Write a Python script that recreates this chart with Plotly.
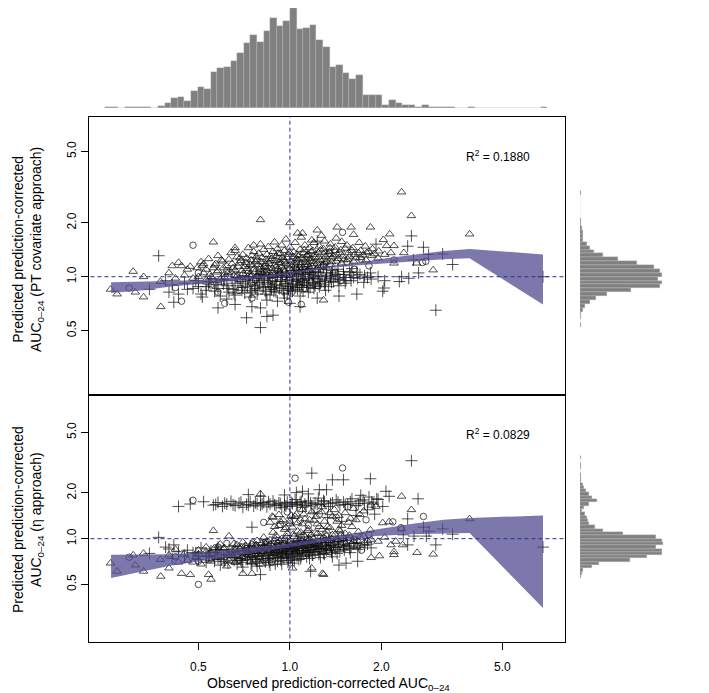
import math
import plotly.graph_objects as go

# ---------------- data ----------------
# top panel: PT covariate approach  (observed, predicted)
top_tri = [(0.80,2.08),(1.00,2.00),(1.23,1.82),(1.06,1.75),(1.10,1.75),(0.56,1.56),(0.66,1.45),(0.76,1.50),
           (0.305,1.07),(0.41,1.15),(0.44,1.15),(0.52,1.18),(0.33,1.00),(0.375,0.94),(0.257,0.85),(0.27,0.80),
           (0.31,0.82),(0.33,0.77),(0.376,0.68),(1.29,0.74),(2.33,2.97),(2.51,2.19),(3.9,1.73),(1.43,1.89),
           (1.59,1.89),(1.84,1.89),(2.13,1.73),(2.03,1.61),(2.08,1.49),(2.2,1.49),(2.37,1.36),(2.96,1.09),
           (2.61,1.19),(2.2,1.19),(2.15,1.36),(0.40,1.05),(0.42,0.98),(0.43,1.20),
           (0.45,1.02),(0.46,1.10),(0.48,0.98),(0.47,1.14),(0.52,1.05),(0.51,1.21),(0.53,0.96),(0.55,1.00),
           (0.56,1.12),(0.54,1.26),(0.58,1.08),(0.59,0.97),(0.57,1.18),(0.58,1.31),(0.61,1.03),(0.62,1.15),
           (0.60,1.22),(0.61,0.99),(0.64,1.06),(0.63,1.25),(0.65,1.12),(0.64,1.36),(0.67,1.01),(0.66,1.09),
           (0.68,1.19),(0.67,1.29),(0.66,1.40),(0.70,1.04),(0.71,1.14),(0.69,1.23),(0.70,1.33),(0.72,0.98),
           (0.73,1.07),(0.74,1.17),(0.72,1.27),(0.73,1.45),(0.75,1.02),(0.76,1.10),(0.77,1.21),(0.75,1.31),
           (0.76,1.38),(0.78,1.00),(0.79,1.05),(0.80,1.13),(0.78,1.24),(0.79,1.35),(0.80,1.52),(0.82,1.09),
           (0.83,1.18),(0.81,1.28),(0.82,1.42),(0.84,1.03),(0.85,1.12),(0.86,1.22),(0.84,1.33),(0.85,1.47),
           (0.87,1.01),(0.88,1.06),(0.89,1.16),(0.87,1.26),(0.88,1.38),(0.89,1.56),(0.91,1.10),(0.92,1.20),
           (0.90,1.30),(0.91,1.43),(0.93,1.04),(0.94,1.13),(0.95,1.24),(0.93,1.35),(0.94,1.50),(0.96,1.07),
           (0.97,1.18),(0.98,1.28),(0.96,1.40),(0.97,1.62),(1.00,1.11),(1.01,1.22),(0.99,1.33),(1.00,1.46),
           (1.02,1.05),(1.04,1.15),(1.05,1.26),(1.03,1.37),(1.04,1.55),(1.06,1.09),(1.08,1.12),(1.09,1.20),
           (1.07,1.31),(1.08,1.42),(1.09,1.66),(1.12,1.16),(1.13,1.25),(1.11,1.36),(1.12,1.50),(1.14,1.08),
           (1.16,1.13),(1.17,1.22),(1.15,1.33),(1.16,1.45),(1.18,1.60),(1.20,1.18),(1.21,1.28),(1.19,1.40),
           (1.20,1.55),(1.22,1.10),(1.25,1.15),(1.26,1.24),(1.24,1.36),(1.25,1.48),(1.27,1.70),(1.30,1.20),
           (1.31,1.30),(1.29,1.43),(1.30,1.58),(1.32,1.12),(1.36,1.17),(1.37,1.27),(1.35,1.38),(1.36,1.52),
           (1.42,1.22),(1.43,1.33),(1.41,1.46),(1.42,1.64),(1.48,1.19),(1.49,1.30),(1.47,1.41),(1.48,1.57),
           (1.55,1.25),(1.56,1.36),(1.54,1.50),(1.62,1.22),(1.63,1.33),(1.61,1.45),(1.62,1.72),(1.70,1.28),
           (1.71,1.40),(1.69,1.55),(1.78,1.24),(1.79,1.36),(1.77,1.48),(1.86,1.31),(1.87,1.43),(1.95,1.27),
           (1.96,1.39),(2.05,1.33)]
top_tri_more = [(0.605,1.12),(0.625,1.05),(0.645,1.18),(0.655,1.02),(0.675,1.14),(0.685,1.27),(0.695,1.08),
           (0.715,1.20),(0.725,1.11),(0.735,1.03),(0.745,1.24),(0.755,1.15),(0.765,1.06),(0.775,1.29),(0.785,1.17),
           (0.795,1.09),(0.805,1.21),(0.815,1.04),(0.825,1.14),(0.835,1.25),(0.845,1.08),(0.855,1.18),(0.865,1.30),
           (0.875,1.11),(0.885,1.02),(0.895,1.23),(0.905,1.14),(0.915,1.35),(0.925,1.06),(0.935,1.19),(0.945,1.28),
           (0.955,1.10),(0.965,1.22),(0.975,1.03),(0.985,1.15),(0.995,1.37),(1.005,1.17),(1.015,1.08),(1.025,1.29),
           (1.035,1.20),(1.045,1.11),(1.055,1.33),(1.065,1.24),(1.075,1.06),(1.085,1.16),(1.095,1.27),(1.105,1.13),
           (1.115,1.41),(1.125,1.20),(1.135,1.31),(1.145,1.17),(1.155,1.09),(1.165,1.26),(1.175,1.38),(1.185,1.14),
           (1.195,1.22),(1.21,1.33),(1.23,1.19),(1.245,1.29),(1.26,1.41),(1.275,1.16),(1.29,1.25),(1.305,1.37),
           (1.32,1.22),(1.34,1.33),(1.355,1.45),(1.37,1.21),(1.39,1.30),(1.41,1.40),(1.44,1.26),(1.46,1.36),
           (1.50,1.24),(1.52,1.44),(1.57,1.30),(1.60,1.40),(1.65,1.27),(1.68,1.36),(1.74,1.32),(1.82,1.38),
           (1.90,1.34),(0.53,1.10),(0.545,1.03),(0.565,1.16),(0.575,1.06),(0.595,1.24),(0.50,1.00),(0.495,1.12),
           (0.515,1.15)]
top_circ = [(0.48,1.50),(0.296,0.865),(0.44,0.73),(0.61,0.71),(1.09,0.70),(1.49,1.77),(2.73,1.20),(2.80,1.22),
            (2.2,1.24),(0.42,0.87),(0.55,0.90),(0.62,1.08),(0.68,0.84),(0.72,1.18),(0.77,0.96),(0.83,1.14),
            (0.87,0.88),(0.92,1.26),(0.96,1.00),(1.01,0.81),(1.05,1.19),(1.09,0.94),(1.14,1.30),(1.19,1.02),
            (1.24,0.89),(1.29,1.15),(1.35,1.35),(1.41,1.06),(1.47,0.95),(1.54,1.20),(1.63,1.10),(1.72,1.25),
            (1.82,1.15),(0.50,1.05),(0.58,0.82),(0.75,0.76),(0.99,0.72),(1.12,0.86)]
top_plus = [(0.37,1.31),(0.345,0.85),(0.415,0.72),(0.40,0.82),(0.58,0.67),(0.72,0.59),(0.80,0.52),(0.84,0.60),
            (0.88,0.61),(0.75,0.68),(0.80,0.67),(1.0,0.71),(1.08,0.68),(0.91,0.73),(0.66,0.70),(1.23,0.76),
            (1.23,1.58),(2.51,1.69),(1.92,1.52),(2.44,1.48),(2.75,1.46),(2.86,1.33),(3.18,1.34),(3.43,1.17),
            (2.55,1.24),(2.65,1.05),(2.46,0.98),(2.29,0.94),(2.33,1.00),(3.02,0.65),(2.04,0.865),(2.02,0.83),
            (1.66,0.80),(1.45,0.78),(6.8,1.00),(0.41,0.90),(0.43,0.80),(0.39,0.95),
            (0.45,0.92),(0.46,0.85),(0.50,0.88),(0.49,0.95),(0.51,0.80),(0.54,0.91),(0.53,0.84),(0.55,0.97),
            (0.58,0.86),(0.57,0.93),(0.59,0.78),(0.62,0.89),(0.61,0.96),(0.63,0.82),(0.62,0.75),(0.66,0.92),
            (0.65,0.85),(0.67,0.99),(0.66,0.79),(0.70,0.87),(0.69,0.94),(0.71,0.81),(0.70,1.00),(0.74,0.90),
            (0.73,0.97),(0.75,0.84),(0.74,0.77),(0.78,0.93),(0.77,0.86),(0.79,1.01),(0.78,0.80),(0.82,0.88),
            (0.81,0.95),(0.83,0.83),(0.82,1.03),(0.84,0.74),(0.86,0.91),(0.85,0.98),(0.87,0.85),(0.86,0.79),
            (0.90,0.94),(0.89,0.87),(0.91,1.02),(0.90,0.82),(0.94,0.89),(0.93,0.96),(0.95,0.84),(0.94,1.05),
            (0.96,0.76),(0.98,0.92),(0.97,0.99),(0.99,0.86),(0.98,0.80),(1.02,0.95),(1.01,0.88),(1.03,1.04),
            (1.02,0.83),(1.06,0.90),(1.05,0.97),(1.07,1.07),(1.06,0.85),(1.08,0.78),(1.10,0.93),(1.11,1.00),
            (1.09,0.87),(1.10,1.09),(1.15,0.96),(1.14,0.89),(1.16,1.03),(1.15,0.82),(1.20,0.91),(1.19,0.98),
            (1.21,1.06),(1.20,0.86),(1.25,0.94),(1.24,1.01),(1.26,1.10),(1.25,0.88),(1.31,0.97),(1.30,0.90),
            (1.32,1.05),(1.31,0.84),(1.37,0.93),(1.36,1.00),(1.38,1.08),(1.44,0.96),(1.43,1.03),(1.45,0.89),
            (1.51,0.99),(1.50,1.07),(1.52,0.92),(1.59,0.95),(1.58,1.02),(1.60,1.11),(1.67,0.98),(1.66,1.06),
            (1.76,1.01),(1.75,0.93),(1.85,0.97),(1.84,1.05),(1.95,1.00),(2.05,0.95)]
top_plus_more = [(0.605,0.91),(0.625,0.86),(0.645,0.95),(0.655,0.81),(0.675,0.89),(0.685,0.97),(0.695,0.84),
            (0.715,0.92),(0.725,0.88),(0.735,1.00),(0.745,0.82),(0.755,0.95),(0.765,0.89),(0.775,0.98),(0.785,0.84),
            (0.795,0.91),(0.805,1.04),(0.815,0.87),(0.825,0.96),(0.835,0.80),(0.845,0.93),(0.855,1.02),(0.865,0.88),
            (0.875,0.95),(0.885,0.83),(0.895,0.99),(0.905,0.90),(0.915,1.06),(0.925,0.86),(0.935,0.94),(0.945,1.01),
            (0.955,0.81),(0.965,0.91),(0.975,1.04),(0.985,0.88),(0.995,0.96),(1.005,0.84),(1.015,1.00),(1.025,0.91),
            (1.035,1.08),(1.045,0.87),(1.055,0.94),(1.065,1.02),(1.075,0.89),(1.085,0.97),(1.095,1.05),(1.105,0.83),
            (1.115,0.95),(1.125,1.03),(1.135,0.91),(1.145,1.10),(1.155,0.98),(1.165,0.87),(1.175,1.05),(1.185,0.93),
            (1.195,1.01),(1.21,0.89),(1.23,0.97),(1.245,1.06),(1.26,0.92),(1.275,1.00),(1.29,1.12),(1.305,0.95),
            (1.32,1.02),(1.34,0.88),(1.355,0.98),(1.37,1.05),(1.39,0.94),(1.41,1.01),(1.44,1.10),(1.46,0.97),
            (1.50,1.03),(1.53,0.95),(1.57,1.06),(1.62,0.99),(1.70,1.03),(1.80,0.99),(0.53,0.88),(0.545,0.94),
            (0.565,0.83),(0.575,0.90),(0.595,0.97),(0.50,0.92),(0.48,0.86),(0.515,0.77)]

# bottom panel: eta approach (observed, predicted)
bot_tri = [(0.875,1.40),(0.56,1.13),(0.63,1.04),(0.257,0.69),(0.27,0.61),(0.31,0.67),(0.33,0.61),(0.33,0.80),
           (0.305,0.78),(0.375,0.73),(0.376,0.565),(0.40,0.64),(0.44,0.59),(0.47,0.58),(0.55,0.54),(0.54,0.58),
           (0.70,0.59),(0.75,0.59),(1.28,0.59),(1.29,0.58),(1.18,0.64),(1.02,0.64),(0.80,1.97),(2.33,1.90),
           (2.51,1.55),(1.85,1.66),(1.92,1.63),(3.9,1.35),(2.02,1.27),(2.12,1.29),(2.33,1.16),(2.23,0.96),
           (2.35,0.91),(2.15,0.91),(2.62,0.81),(2.96,0.79),(2.20,0.785),(2.20,0.82),(1.85,0.75),(1.97,0.77),
           (0.40,0.78),(0.42,0.85),(0.43,0.70),
           (0.88,1.38),(0.86,1.28),(0.95,1.33),(1.05,1.45),(1.12,1.35),(1.18,1.50),(1.22,1.40),(1.30,1.30),
           (1.40,1.55),(1.45,1.42),(1.52,1.48),(1.58,1.36),(1.62,1.58),(1.70,1.44),(1.75,1.52),(0.92,1.44),
           (1.00,1.25),(1.28,1.62),(1.35,1.48),(1.10,1.55),
           (0.89,1.20),(0.93,1.30),(0.97,1.18),(1.01,1.42),(1.06,1.27),(1.11,1.45),(1.16,1.33),(1.23,1.25),
           (1.27,1.50),(1.33,1.20),(1.38,1.40),(1.43,1.30),(1.48,1.22),(1.56,1.28),(1.65,1.33),
           (0.45,0.80),(0.46,0.72),(0.50,0.84),(0.49,0.76),(0.51,0.68),(0.54,0.79),(0.53,0.88),(0.55,0.71),
           (0.58,0.83),(0.57,0.75),(0.59,0.92),(0.62,0.80),(0.61,0.87),(0.63,0.72),(0.62,0.66),(0.66,0.84),
           (0.65,0.77),(0.67,0.91),(0.66,0.70),(0.70,0.81),(0.69,0.88),(0.71,0.74),(0.70,0.95),(0.74,0.85),
           (0.73,0.78),(0.75,0.92),(0.74,0.71),(0.78,0.82),(0.77,0.89),(0.79,0.75),(0.78,0.97),(0.80,0.68),
           (0.82,0.86),(0.81,0.79),(0.83,0.93),(0.82,1.02),(0.86,0.83),(0.85,0.90),(0.87,0.76),(0.86,0.98),
           (0.88,1.10),(0.90,0.87),(0.89,0.80),(0.91,0.94),(0.90,1.05),(0.92,1.22),(0.94,0.84),(0.93,0.91),
           (0.95,0.77),(0.94,1.00),(0.96,1.15),(0.98,0.88),(0.97,0.81),(0.99,0.95),(0.98,1.08),(1.00,1.30),
           (1.02,0.85),(1.01,0.92),(1.03,1.03),(1.02,1.19),(1.04,1.40),(1.06,0.89),(1.05,0.82),(1.07,0.97),
           (1.06,1.12),(1.10,0.86),(1.09,0.93),(1.11,1.06),(1.10,1.25),(1.15,0.90),(1.14,0.83),(1.16,1.00),
           (1.15,1.16),(1.20,0.87),(1.19,0.95),(1.21,1.09),(1.20,1.32),(1.25,0.91),(1.24,0.84),(1.26,1.03),
           (1.25,1.20),(1.31,0.88),(1.30,0.97),(1.32,1.12),(1.37,0.93),(1.36,0.86),(1.38,1.06),(1.44,0.90),
           (1.43,0.99),(1.45,1.15),(1.51,0.95),(1.50,0.87),(1.52,1.08),(1.59,0.92),(1.58,1.01),(1.60,1.20),
           (1.67,0.97),(1.66,0.89),(1.68,1.11),(1.76,0.94),(1.75,1.04),(1.85,0.99),(1.84,1.14),(1.95,0.96),
           (2.05,1.02)]
bot_tri_more = [(0.605,0.86),(0.625,0.78),(0.645,0.83),(0.655,0.93),(0.675,0.79),(0.685,0.86),(0.695,0.76),
           (0.715,0.90),(0.725,0.81),(0.735,0.87),(0.745,0.77),(0.755,0.95),(0.765,0.84),(0.775,0.91),(0.785,0.79),
           (0.795,0.86),(0.805,0.93),(0.815,0.82),(0.825,0.88),(0.835,0.76),(0.845,0.96),(0.855,0.85),(0.865,0.92),
           (0.875,0.80),(0.885,0.87),(0.895,1.00),(0.905,0.83),(0.915,0.90),(0.925,0.97),(0.935,0.86),(0.945,0.79),
           (0.955,0.93),(0.965,0.84),(0.975,1.03),(0.985,0.90),(0.995,0.82),(1.005,0.96),(1.015,0.87),(1.025,1.07),
           (1.035,0.91),(1.045,0.84),(1.055,1.00),(1.065,0.93),(1.075,0.86),(1.085,1.10),(1.095,0.97),(1.105,0.89),
           (1.115,1.04),(1.125,0.94),(1.135,0.85),(1.145,1.13),(1.155,0.98),(1.165,0.91),(1.175,1.06),(1.185,0.88),
           (1.195,1.00),(1.21,0.93),(1.23,1.08),(1.245,0.96),(1.26,0.89),(1.275,1.15),(1.29,1.01),(1.305,0.92),
           (1.32,1.05),(1.34,0.97),(1.355,1.18),(1.37,1.00),(1.39,0.91),(1.41,1.07),(1.44,0.98),(1.46,1.12),
           (1.50,1.01),(1.53,0.93),(1.57,1.05),(1.62,0.96),(1.70,1.02),(1.80,0.97),(0.53,0.82),(0.545,0.74),
           (0.565,0.87),(0.575,0.78),(0.595,0.81),(0.50,0.79),(0.48,0.70)]
bot_circ = [(0.48,1.79),(1.04,2.5),(0.296,0.755),(0.50,0.50),(1.49,2.92),(2.75,1.40),(2.18,1.29),(2.32,1.18),
            (0.93,1.24),(0.42,0.76),(0.82,1.28),(0.98,1.50),(1.08,1.32),(1.25,1.45),(1.42,1.38),(1.55,1.62),
            (1.78,1.33),(1.15,1.22),(0.55,0.80),(0.62,0.93),(0.68,0.72),(0.72,0.86),(0.77,0.78),(0.83,0.95),
            (0.87,0.70),(0.92,0.83),(0.96,0.98),(1.01,0.77),(1.05,0.88),(1.09,1.02),(1.14,0.80),(1.19,0.93),
            (1.24,0.86),(1.29,1.01),(1.35,0.82),(1.41,0.95),(1.47,1.05),(1.54,0.89),(1.63,0.99),(1.72,0.84),
            (1.82,1.06),(0.50,0.71),(0.58,0.88)]
bot_plus = [(0.43,1.63),(1.18,2.7),(1.25,2.1),(0.37,1.02),(0.75,1.19),(0.345,0.80),(0.40,0.855),(0.415,0.91),
            (0.80,0.58),(1.17,0.61),(2.51,3.26),(1.38,2.44),(1.50,2.44),(1.84,2.48),(2.07,2.05),(2.12,1.90),
            (1.93,1.83),(1.71,1.93),(2.02,1.63),(2.64,1.83),(2.44,1.35),(2.75,1.19),(2.87,1.12),(3.18,1.16),
            (3.43,1.07),(2.56,1.04),(2.81,1.04),(2.36,1.06),(2.44,0.91),(3.02,0.91),(6.8,0.88),(1.67,0.71),
            (1.53,0.69),(1.45,0.67),(0.41,0.74),(0.43,0.82),(0.39,0.88),
            (0.56,1.66),(0.58,1.73),(0.60,1.63),(0.62,1.69),(0.64,1.76),(0.66,1.65),(0.68,1.71),(0.70,1.61),
            (0.72,1.68),(0.74,1.75),(0.76,1.64),(0.78,1.70),(0.80,1.66),(0.82,1.73),(0.84,1.62),(0.86,1.69),
            (0.88,1.77),(0.90,1.65),(0.92,1.72),(0.94,1.60),(0.96,1.67),(0.98,1.74),(1.00,1.63),(1.02,1.70),
            (1.04,1.81),(1.06,1.66),(1.08,1.73),(1.10,1.61),(1.12,1.69),(1.15,1.77),(1.18,1.64),(1.21,1.71),
            (1.24,1.85),(1.27,1.67),(1.30,1.75),(1.34,1.63),(1.38,1.72),(1.42,1.80),(1.46,1.66),(1.50,1.74),
            (1.55,1.69),(1.60,1.83),(1.65,1.65),(1.70,1.77),(1.76,1.71),(1.82,1.88),(1.88,1.69),(1.95,1.81),
            (0.47,1.69),(0.52,1.75),(0.73,1.95),(0.80,1.90),(0.96,1.94),(1.10,2.05),(1.15,1.97),(1.32,2.10),
            (1.05,2.01),(1.20,1.48),(1.48,1.30),(1.65,1.42),(1.33,1.38),(1.02,1.36),(1.80,1.55),(1.90,1.45),
            (0.57,1.68),(0.61,1.71),(0.65,1.67),(0.69,1.74),(0.73,1.66),(0.77,1.72),(0.81,1.69),(0.85,1.75),
            (0.89,1.67),(0.93,1.70),(0.97,1.64),(1.01,1.73),(1.05,1.68),(1.09,1.76),(1.13,1.65),(1.17,1.72),
            (1.23,1.68),(1.29,1.78),(1.36,1.70),(1.44,1.74),(1.52,1.68),(1.58,1.75),(1.68,1.70),(1.74,1.80),
            (1.86,1.74),
            (0.45,0.76),(0.46,0.84),(0.50,0.73),(0.49,0.80),(0.51,0.87),(0.54,0.77),(0.53,0.70),(0.55,0.83),
            (0.58,0.74),(0.57,0.81),(0.59,0.67),(0.58,0.88),(0.62,0.78),(0.61,0.71),(0.63,0.85),(0.66,0.75),
            (0.65,0.82),(0.67,0.68),(0.66,0.89),(0.70,0.79),(0.69,0.72),(0.71,0.86),(0.70,0.65),(0.74,0.76),
            (0.73,0.83),(0.75,0.69),(0.74,0.90),(0.78,0.80),(0.77,0.73),(0.79,0.87),(0.78,0.66),(0.82,0.77),
            (0.81,0.84),(0.83,0.70),(0.82,0.91),(0.86,0.81),(0.85,0.74),(0.87,0.88),(0.86,0.67),(0.90,0.78),
            (0.89,0.85),(0.91,0.71),(0.90,0.93),(0.94,0.82),(0.93,0.75),(0.95,0.89),(0.94,0.68),(0.98,0.79),
            (0.97,0.86),(0.99,0.72),(0.98,0.95),(1.02,0.83),(1.01,0.76),(1.03,0.90),(1.02,0.69),(1.06,0.80),
            (1.05,0.87),(1.07,0.73),(1.06,0.96),(1.10,0.84),(1.09,0.77),(1.11,0.91),(1.15,0.81),(1.14,0.88),
            (1.16,0.74),(1.15,0.98),(1.20,0.85),(1.19,0.78),(1.21,0.92),(1.25,0.82),(1.24,0.89),(1.26,0.75),
            (1.31,0.86),(1.30,0.79),(1.32,0.94),(1.37,0.83),(1.36,0.90),(1.38,0.76),(1.44,0.87),(1.43,0.80),
            (1.45,0.96),(1.51,0.84),(1.50,0.91),(1.59,0.88),(1.58,0.81),(1.67,0.85),(1.66,0.93),(1.76,0.90),
            (1.85,0.87)]
bot_plus_more = [(0.605,0.75),(0.625,0.69),(0.645,0.79),(0.655,0.72),(0.675,0.82),(0.685,0.74),(0.695,0.70),
            (0.715,0.78),(0.725,0.73),(0.735,0.81),(0.745,0.68),(0.755,0.76),(0.765,0.83),(0.775,0.71),(0.785,0.77),
            (0.795,0.69),(0.805,0.80),(0.815,0.74),(0.825,0.86),(0.835,0.72),(0.845,0.78),(0.855,0.70),(0.865,0.83),
            (0.875,0.75),(0.885,0.79),(0.895,0.68),(0.905,0.81),(0.915,0.76),(0.925,0.87),(0.935,0.72),(0.945,0.80),
            (0.955,0.74),(0.965,0.84),(0.975,0.77),(0.985,0.70),(0.995,0.82),(1.005,0.75),(1.015,0.86),(1.025,0.79),
            (1.035,0.72),(1.045,0.83),(1.055,0.77),(1.065,0.90),(1.075,0.81),(1.085,0.74),(1.095,0.86),(1.105,0.79),
            (1.115,0.93),(1.125,0.83),(1.135,0.76),(1.145,0.88),(1.155,0.81),(1.165,0.95),(1.175,0.84),(1.185,0.78),
            (1.195,0.90),(1.21,0.82),(1.23,0.87),(1.245,0.79),(1.26,0.94),(1.275,0.85),(1.29,0.80),(1.305,0.91),
            (1.32,0.84),(1.34,0.97),(1.355,0.88),(1.37,0.81),(1.39,0.92),(1.41,0.85),(1.44,0.95),(1.46,0.82),
            (1.50,0.89),(1.53,0.97),(1.57,0.86),(1.62,0.93),(1.70,0.88),(1.80,0.92),(0.53,0.76),(0.545,0.81),
            (0.565,0.71),(0.575,0.85),(0.595,0.73),(0.50,0.77),(0.48,0.81)]

# LOESS confidence bands
band_x = [0.258, 0.33, 0.40, 0.50, 0.62, 0.75, 0.88, 1.00, 1.15, 1.31, 1.60, 2.07, 2.60, 3.20, 3.90, 6.80]
top_band_hi = [0.93, 0.935, 0.945, 0.96, 0.98, 1.005, 1.03, 1.06, 1.10, 1.14, 1.19, 1.27, 1.33, 1.39, 1.43, 1.33]
top_band_lo = [0.81, 0.84, 0.88, 0.91, 0.94, 0.97, 1.00, 1.03, 1.07, 1.11, 1.15, 1.19, 1.22, 1.25, 1.27, 0.70]
bot_band_x = [0.258, 0.33, 0.40, 0.50, 0.62, 0.75, 0.88, 1.00, 1.15, 1.31, 1.60, 1.92, 2.50, 3.20, 3.90, 6.80]
bot_band_hi = [0.785, 0.785, 0.79, 0.81, 0.84, 0.87, 0.90, 0.93, 0.97, 1.02, 1.08, 1.15, 1.25, 1.33, 1.37, 1.42]
bot_band_lo = [0.552, 0.61, 0.66, 0.71, 0.76, 0.80, 0.84, 0.88, 0.92, 0.96, 1.00, 1.04, 1.07, 1.08, 1.09, 0.35]

# marginal histograms (bins of width 0.05 on the natural-log scale)
bin_width_ln = 0.05
obs_hist_first_edge = -1.40
obs_hist_counts = [1, 1, 0, 1, 2, 2, 1, 0, 3, 8, 15, 16, 10, 25, 31, 29, 54, 60, 62, 71, 82, 97, 109, 99,
                   115, 135, 123, 131, 150, 119, 120, 124, 102, 92, 62, 64, 53, 44, 49, 20, 19, 19, 5, 12,
                   7, 4, 4, 2, 4, 2, 1, 1, 1, 0, 0, 1, 0, 0, 0, 0, 0, 0, 0, 0, 0, 0, 1]
top_hist_first_edge = -0.65
top_hist_counts = [1, 0, 2, 2, 4, 8, 15, 24, 41, 76, 120, 123, 116, 123, 120, 110, 86, 57, 35, 21, 15, 10,
                   5, 4, 4, 3, 2, 1, 0, 0, 0, 0, 0, 0, 1]
bot_hist_first_edge = -0.60
bot_hist_counts = [1, 3, 5, 18, 29, 75, 100, 123, 123, 113, 124, 123, 113, 65, 34, 23, 14, 12, 11, 7, 3, 6,
                   14, 26, 18, 13, 9, 6, 4, 1, 2, 1, 0, 1, 1, 0, 1]

r2_top = "0.1880"
r2_bot = "0.0829"
tick_vals = [0.5, 1.0, 2.0, 5.0]
tick_text = ["0.5", "1.0", "2.0", "5.0"]

# ---------------- layout geometry (pixels) ----------------
W, H = 709, 693
def fx(p):
    return p / W
def fy(p):
    return 1 - p / H

X_RANGE = [-0.661, 0.905]
TOP_YR = [-0.655, 0.892]
BOT_YR = [-0.680, 0.939]

FONT = "Liberation Sans, Arial, Helvetica, sans-serif"
PT_COL = "rgba(15,15,15,0.72)"
BAND_COL = "rgba(82,75,143,0.75)"
DASH_COL = "#2f2f95"
HIST_COL = "#808080"

fig = go.Figure()

def add_panel(xa, ya, tri, circ, plus, bx, bhi, blo):
    fig.add_trace(go.Scatter(x=[p[0] for p in tri], y=[p[1] for p in tri], mode="markers", xaxis=xa, yaxis=ya,
                             marker=dict(symbol="triangle-up-open", size=7.5, color=PT_COL,
                                         line=dict(width=1, color=PT_COL))))
    fig.add_trace(go.Scatter(x=[p[0] for p in circ], y=[p[1] for p in circ], mode="markers", xaxis=xa, yaxis=ya,
                             marker=dict(symbol="circle-open", size=6.5, color=PT_COL,
                                         line=dict(width=1, color=PT_COL))))
    fig.add_trace(go.Scatter(x=[p[0] for p in plus], y=[p[1] for p in plus], mode="markers", xaxis=xa, yaxis=ya,
                             marker=dict(symbol="cross-thin", size=8.5, color=PT_COL,
                                         line=dict(width=1, color=PT_COL))))
    # confidence band drawn over the points (semi-transparent)
    fig.add_trace(go.Scatter(x=bx + bx[::-1], y=bhi + blo[::-1], fill="toself", fillcolor=BAND_COL,
                             line=dict(width=0), mode="lines", xaxis=xa, yaxis=ya, hoverinfo="skip"))
    # reference lines at 1
    fig.add_trace(go.Scatter(x=[1, 1], y=[0.05, 50], mode="lines", xaxis=xa, yaxis=ya,
                             line=dict(color=DASH_COL, width=1, dash="4px,3px")))
    fig.add_trace(go.Scatter(x=[0.05, 50], y=[1, 1], mode="lines", xaxis=xa, yaxis=ya,
                             line=dict(color=DASH_COL, width=1, dash="4px,3px")))

add_panel("x", "y", top_tri + top_tri_more, top_circ, top_plus + top_plus_more,
          band_x, top_band_hi, top_band_lo)
add_panel("x2", "y2", bot_tri + bot_tri_more, bot_circ, bot_plus + bot_plus_more,
          bot_band_x, bot_band_hi, bot_band_lo)

LN10 = math.log(10)
bw = bin_width_ln / LN10

def centers(first, n):
    return [(first + (i + 0.5) * bin_width_ln) / LN10 for i in range(n)]

hist_marker = dict(color=HIST_COL, line=dict(color="rgba(190,190,190,0.8)", width=0.4))
fig.add_trace(go.Bar(x=centers(obs_hist_first_edge, len(obs_hist_counts)), y=obs_hist_counts, width=bw,
                     marker=hist_marker, xaxis="x3", yaxis="y3"))
fig.add_trace(go.Bar(y=centers(top_hist_first_edge, len(top_hist_counts)), x=top_hist_counts, width=bw,
                     orientation="h", marker=hist_marker, xaxis="x4", yaxis="y4"))
fig.add_trace(go.Bar(y=centers(bot_hist_first_edge, len(bot_hist_counts)), x=bot_hist_counts, width=bw,
                     orientation="h", marker=hist_marker, xaxis="x5", yaxis="y5"))

XD = [fx(81), fx(557)]
TOP_D = [fy(386), fy(109)]
BOT_D = [fy(634), fy(388)]

frame = dict(showline=True, linecolor="black", linewidth=1, mirror=True, showgrid=False, zeroline=False)
hidden = dict(visible=False, showgrid=False, zeroline=False, fixedrange=True)

fig.update_layout(
    width=W, height=H, margin=dict(l=0, r=0, t=0, b=0),
    paper_bgcolor="white", plot_bgcolor="white", showlegend=False, bargap=0,
    font=dict(family=FONT, size=12, color="black"),
    xaxis=dict(domain=XD, type="log", range=X_RANGE, anchor="y", showticklabels=False, ticks="", **frame),
    yaxis=dict(domain=TOP_D, type="log", range=TOP_YR, anchor="x", tickvals=tick_vals, ticktext=tick_text,
               ticks="outside", ticklen=7, tickcolor="black", tickangle=-90, tickfont=dict(size=12), **frame),
    xaxis2=dict(domain=XD, type="log", range=X_RANGE, anchor="y2", tickvals=tick_vals, ticktext=tick_text,
                ticks="outside", ticklen=7, tickcolor="black", ticklabelstandoff=7, tickfont=dict(size=12), **frame),
    yaxis2=dict(domain=BOT_D, type="log", range=BOT_YR, anchor="x2", tickvals=tick_vals, ticktext=tick_text,
                ticks="outside", ticklen=7, tickcolor="black", tickangle=-90, tickfont=dict(size=12), **frame),
    xaxis3=dict(domain=XD, range=X_RANGE, anchor="y3", **hidden),
    yaxis3=dict(domain=[fy(100), 1.0], range=[0, 150], anchor="x3", **hidden),
    xaxis4=dict(domain=[fx(572), 1.0], range=[0, 205], anchor="y4", **hidden),
    yaxis4=dict(domain=TOP_D, range=TOP_YR, anchor="x4", **hidden),
    xaxis5=dict(domain=[fx(572), 1.0], range=[0, 205], anchor="y5", **hidden),
    yaxis5=dict(domain=BOT_D, range=BOT_YR, anchor="x5", **hidden),
)

ann = [
    dict(text="R<sup>2</sup> = " + r2_top, x=fx(490), y=fy(148)),
    dict(text="R<sup>2</sup> = " + r2_bot, x=fx(490), y=fy(426)),
    dict(text="Observed prediction-corrected AUC<sub>0–24</sub>", x=fx(320), y=fy(676), size=14),
    dict(text="Predicted prediction-corrected<br>AUC<sub>0–24</sub> (PT covariate approach)",
         x=fx(20), y=fy(242), size=14, angle=-90),
    dict(text="Predicted prediction-corrected<br>AUC<sub>0–24</sub> (η approach)",
         x=fx(20), y=fy(512), size=14, angle=-90),
]
for a in ann:
    fig.add_annotation(text=a["text"], x=a["x"], y=a["y"], xref="paper", yref="paper", showarrow=False,
                       xanchor="center", yanchor="middle", textangle=a.get("angle", 0),
                       font=dict(size=a.get("size", 12), color="black", family=FONT))

fig.write_html("out.html")
